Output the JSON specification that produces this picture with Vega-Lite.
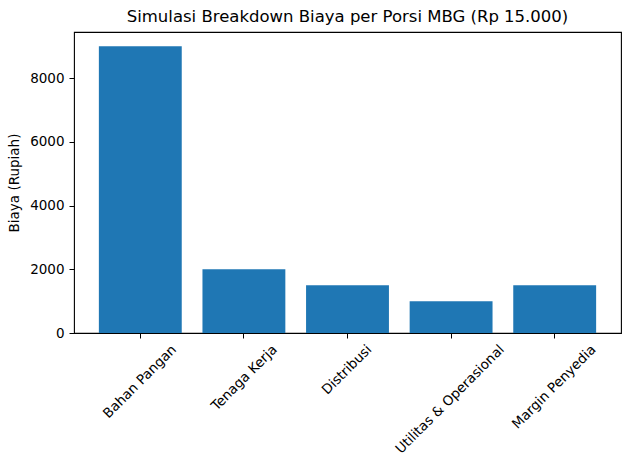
{
  "$schema": "https://vega.github.io/schema/vega-lite/v6.json",
  "autosize": {"type": "none"},
  "padding": {"left": 74, "top": 32, "right": 9, "bottom": 137},
  "width": 547,
  "height": 301,
  "background": "white",
  "config": {
    "font": "DejaVu Sans",
    "view": {"stroke": "black", "strokeWidth": 1.1},
    "axis": {"domainColor": "black", "tickColor": "black", "labelColor": "black", "titleColor": "black", "grid": false, "labelFont": "DejaVu Sans", "titleFont": "DejaVu Sans"}
  },
  "title": {"text": "Simulasi Breakdown Biaya per Porsi MBG (Rp 15.000)", "fontSize": 16.5, "fontWeight": "normal", "color": "black", "font": "DejaVu Sans", "offset": 7},
  "data": {"values": [
    {"kategori": "Bahan Pangan", "biaya": 9000},
    {"kategori": "Tenaga Kerja", "biaya": 2000},
    {"kategori": "Distribusi", "biaya": 1500},
    {"kategori": "Utilitas & Operasional", "biaya": 1000},
    {"kategori": "Margin Penyedia", "biaya": 1500}
  ]},
  "mark": {"type": "bar", "color": "#1f77b4"},
  "encoding": {
    "x": {
      "field": "kategori", "type": "nominal", "sort": null,
      "scale": {"paddingInner": 0.2, "paddingOuter": 0.24},
      "axis": {
        "title": null, "labelAngle": -45, "labelAlign": "right", "labelBaseline": "middle",
        "labelFontSize": 13.5, "tickSize": 5, "labelPadding": 9, "domain": false,
        "labelOffset": {"condition": [
          {"test": "datum.value === 'Bahan Pangan'", "value": 34},
          {"test": "datum.value === 'Tenaga Kerja'", "value": 31},
          {"test": "datum.value === 'Distribusi'", "value": 22},
          {"test": "datum.value === 'Utilitas & Operasional'", "value": 51},
          {"test": "datum.value === 'Margin Penyedia'", "value": 39}
        ], "value": 0}
      }
    },
    "y": {
      "field": "biaya", "type": "quantitative",
      "scale": {"domain": [0, 9450], "nice": false, "zero": true},
      "axis": {
        "title": "Biaya (Rupiah)", "titleFontSize": 13.5, "titleFontWeight": "normal", "titlePadding": 8,
        "values": [0, 2000, 4000, 6000, 8000], "format": "d", "labelFontSize": 13.5, "tickSize": 5, "labelPadding": 5, "domain": false
      }
    }
  }
}
